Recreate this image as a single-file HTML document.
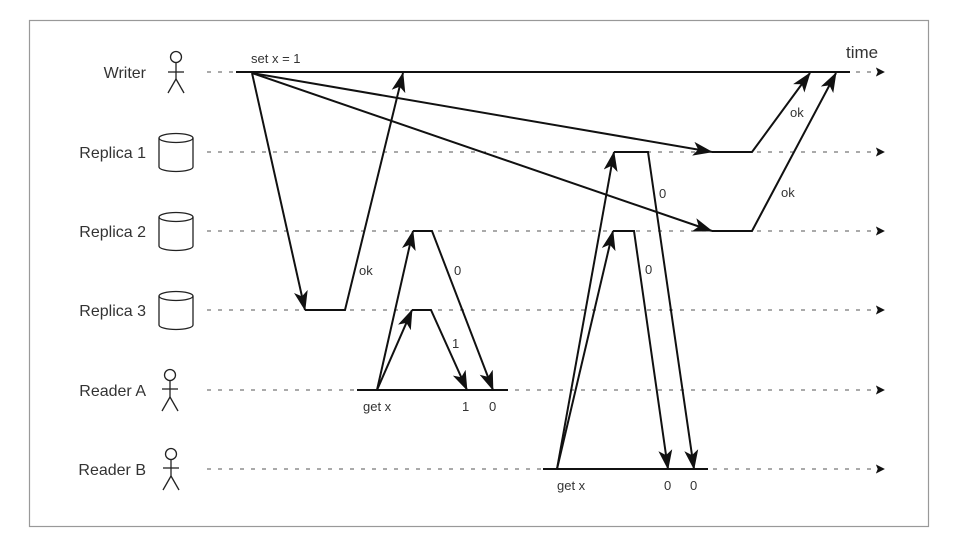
<!DOCTYPE html>
<html><head><meta charset="utf-8"><style>
html,body{margin:0;padding:0;background:#fff;}
svg{display:block;}
text{font-family:"Liberation Sans",sans-serif;fill:#333;}
</style></head><body>
<svg width="959" height="541" viewBox="0 0 959 541" xmlns="http://www.w3.org/2000/svg">
<defs>
<marker id="a" viewBox="0 0 20 14" refX="19" refY="7" markerWidth="20" markerHeight="14" markerUnits="userSpaceOnUse" orient="auto">
<path d="M0,0 L20,7 L0,14 L5,7 Z" fill="#111"/>
</marker>
<marker id="t" viewBox="0 0 10 10" refX="9" refY="5" markerWidth="9" markerHeight="9" markerUnits="userSpaceOnUse" orient="auto">
<path d="M0,0 L10,5 L0,10 L2,5 Z" fill="#111"/>
</marker>
</defs>
<rect x="29.5" y="20.5" width="899" height="506" fill="#fff" stroke="#999" stroke-width="1.2"/>
<g stroke="#555" stroke-width="1" stroke-dasharray="4,7" fill="none">
<line x1="207" y1="72" x2="884" y2="72" marker-end="url(#t)"/>
<line x1="207" y1="152" x2="884" y2="152" marker-end="url(#t)"/>
<line x1="207" y1="231" x2="884" y2="231" marker-end="url(#t)"/>
<line x1="207" y1="310" x2="884" y2="310" marker-end="url(#t)"/>
<line x1="207" y1="390" x2="884" y2="390" marker-end="url(#t)"/>
<line x1="207" y1="469" x2="884" y2="469" marker-end="url(#t)"/>
</g>
<g font-size="16" text-anchor="end">
<text x="146" y="78">Writer</text>
<text x="146" y="158">Replica 1</text>
<text x="146" y="237">Replica 2</text>
<text x="146" y="316">Replica 3</text>
<text x="146" y="396">Reader A</text>
<text x="146" y="475">Reader B</text>
</g>
<g stroke="#222" stroke-width="1.3" fill="none">
<g transform="translate(176,51)"><circle cx="0" cy="6" r="5.5"/><line x1="0" y1="11.5" x2="0" y2="28"/><line x1="-8" y1="21" x2="8" y2="21"/><line x1="0" y1="28" x2="-8" y2="42"/><line x1="0" y1="28" x2="8" y2="42"/></g>
<g transform="translate(170,369)"><circle cx="0" cy="6" r="5.5"/><line x1="0" y1="11.5" x2="0" y2="28"/><line x1="-8" y1="20" x2="8" y2="20"/><line x1="0" y1="28" x2="-8" y2="42"/><line x1="0" y1="28" x2="8" y2="42"/></g>
<g transform="translate(171,448)"><circle cx="0" cy="6" r="5.5"/><line x1="0" y1="11.5" x2="0" y2="28"/><line x1="-8" y1="20" x2="8" y2="20"/><line x1="0" y1="28" x2="-8" y2="42"/><line x1="0" y1="28" x2="8" y2="42"/></g>
<g transform="translate(159,133)"><path d="M0,5 V34 A17,4.5 0 0 0 34,34 V5"/><ellipse cx="17" cy="5" rx="17" ry="4.5"/></g>
<g transform="translate(159,212)"><path d="M0,5 V34 A17,4.5 0 0 0 34,34 V5"/><ellipse cx="17" cy="5" rx="17" ry="4.5"/></g>
<g transform="translate(159,291)"><path d="M0,5 V34 A17,4.5 0 0 0 34,34 V5"/><ellipse cx="17" cy="5" rx="17" ry="4.5"/></g>
</g>
<g stroke="#111" stroke-width="2" fill="none">
<line x1="236" y1="72" x2="850" y2="72"/>
<line x1="357" y1="390" x2="508" y2="390"/>
<line x1="543" y1="469" x2="708" y2="469"/>
<line x1="252" y1="73" x2="305" y2="310" marker-end="url(#a)"/>
<polyline points="305,310 345,310 403,73" marker-end="url(#a)"/>
<line x1="252" y1="73" x2="712" y2="152" marker-end="url(#a)"/>
<polyline points="712,152 752,152 810,73" marker-end="url(#a)"/>
<line x1="252" y1="73" x2="712" y2="231" marker-end="url(#a)"/>
<polyline points="712,231 752,231 836,73" marker-end="url(#a)"/>
<line x1="377" y1="390" x2="413" y2="231" marker-end="url(#a)"/>
<polyline points="413,231 432,231 493,390" marker-end="url(#a)"/>
<line x1="377" y1="390" x2="412" y2="310" marker-end="url(#a)"/>
<polyline points="412,310 431,310 467,390" marker-end="url(#a)"/>
<line x1="557" y1="469" x2="614" y2="152" marker-end="url(#a)"/>
<polyline points="614,152 648,152 694,469" marker-end="url(#a)"/>
<line x1="557" y1="469" x2="613" y2="231" marker-end="url(#a)"/>
<polyline points="613,231 634,231 668,469" marker-end="url(#a)"/>
</g>
<g font-size="13">
<text x="251" y="63">set x = 1</text>
<text x="846" y="58" font-size="17">time</text>
<text x="359" y="275">ok</text>
<text x="790" y="117">ok</text>
<text x="781" y="197">ok</text>
<text x="454" y="275">0</text>
<text x="452" y="348">1</text>
<text x="659" y="198">0</text>
<text x="645" y="274">0</text>
<text x="363" y="411">get x</text>
<text x="462" y="411">1</text>
<text x="489" y="411">0</text>
<text x="557" y="490">get x</text>
<text x="664" y="490">0</text>
<text x="690" y="490">0</text>
</g>
</svg>
</body></html>
